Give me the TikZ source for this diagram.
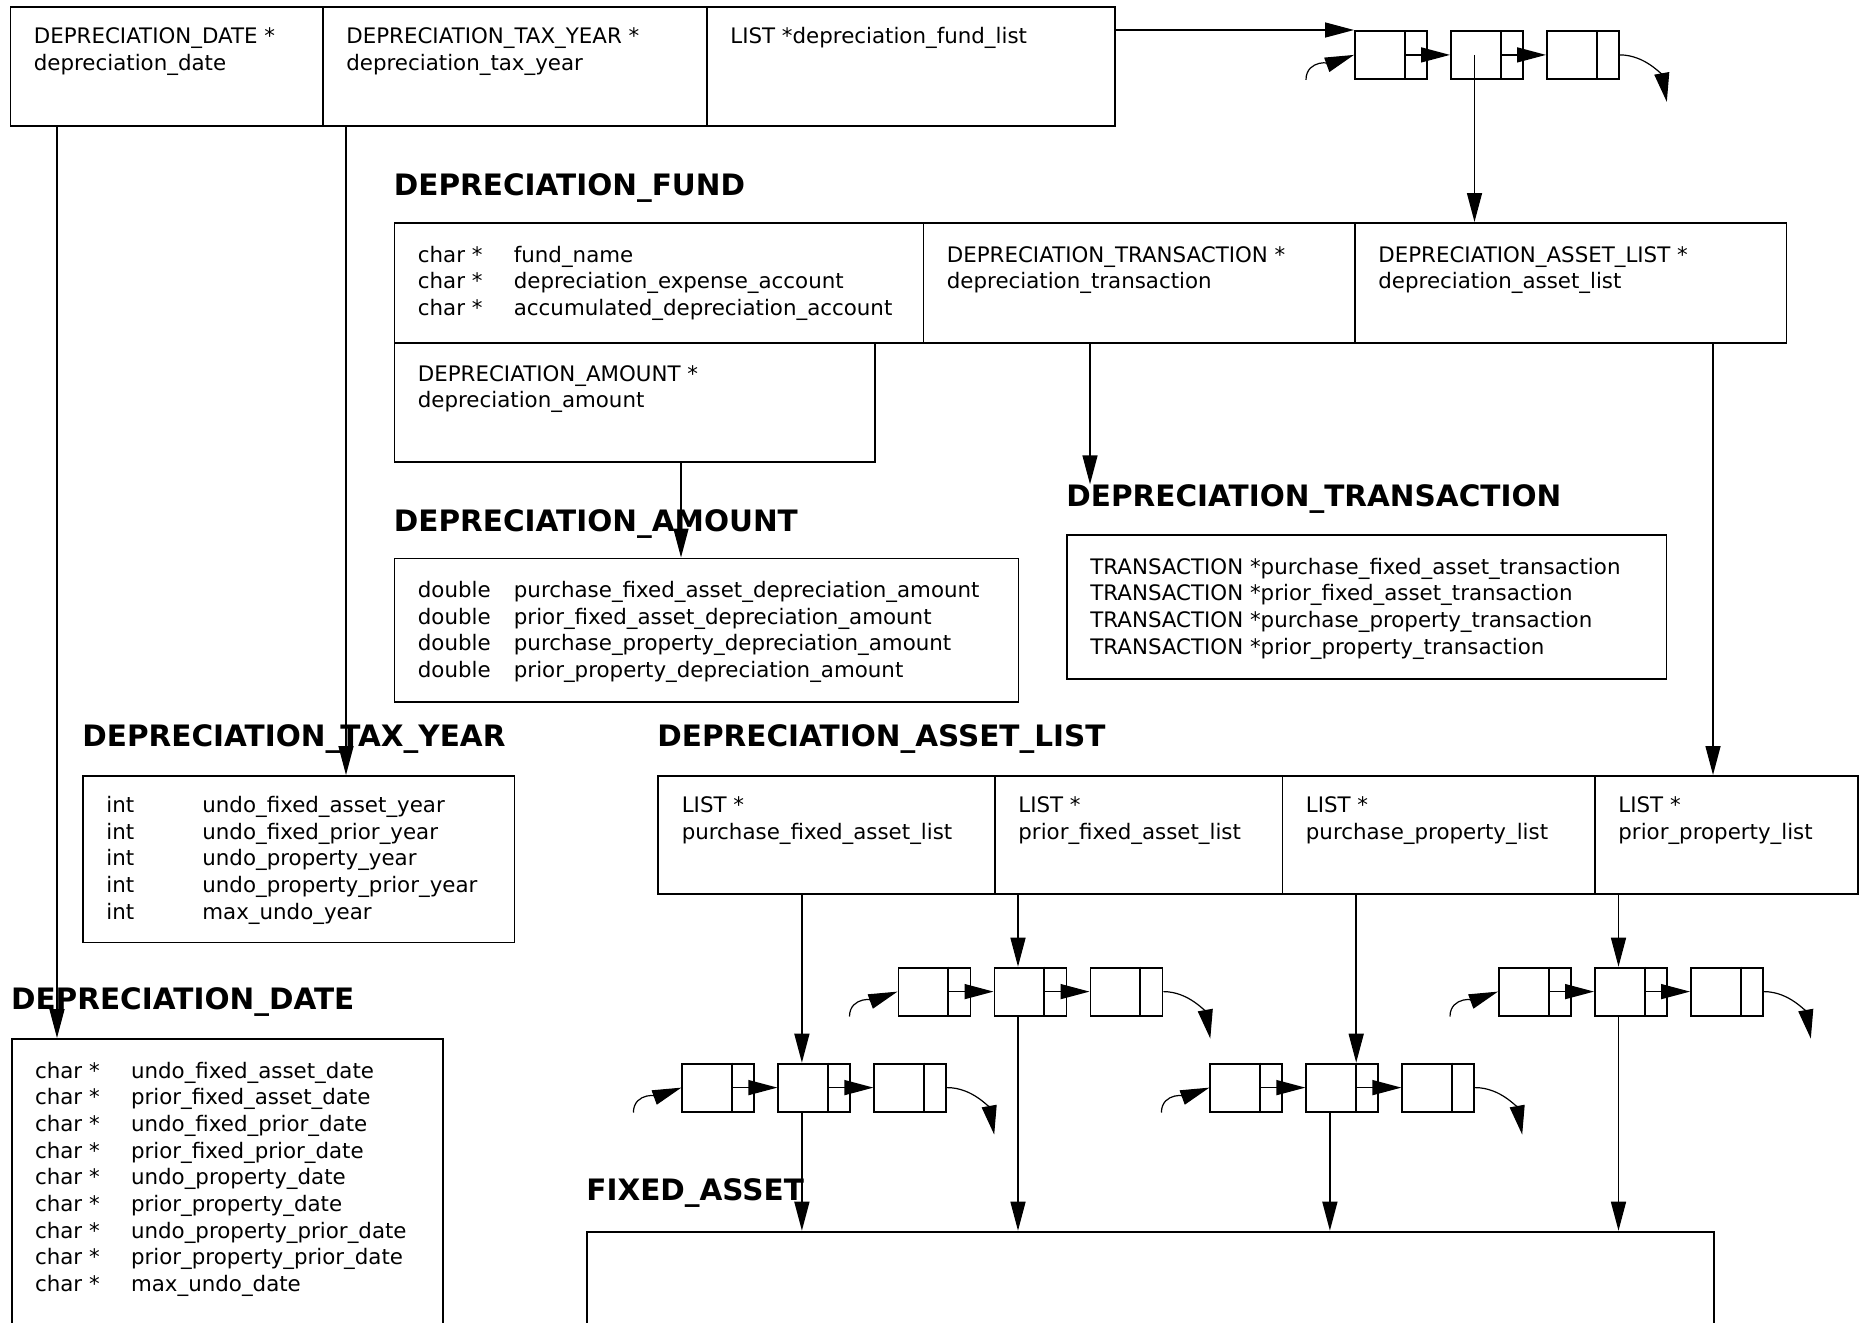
\documentclass[tikz,border=0pt]{standalone}
\usepackage{fontspec}
\setmainfont{DejaVu Sans}
\usetikzlibrary{arrows.meta,calc}
\newcommand{\regfont}{\fontsize{10.68}{13.35}\selectfont}
\newcommand{\ttlfont}{\fontsize{14.75}{17}\selectfont\bfseries}
\tikzset{
  cell/.style={draw, line width=0.9pt, inner sep=0pt, anchor=north west},
  txt/.style={anchor=base west, inner sep=0pt, font=\regfont},
  ttl/.style={anchor=base west, inner sep=0pt, font=\ttlfont},
  arr/.style={line width=0.75pt, -{Triangle[length=14.5pt,width=7.5pt]}},
  carr/.style={line width=0.6pt, -{Triangle[length=14.5pt,width=7.5pt]}},
  lnode/.style={draw, line width=0.9pt, minimum width=36pt, minimum height=24pt, inner sep=0pt, anchor=north west},
}
% cell box: name, x1, y1, x2, y2 (pixel units)
\newcommand{\cellbox}[5]{\node[cell, minimum width={(#4-#2)*0.5pt}, minimum height={(#5-#3)*0.5pt}] (#1) at (#2,#3) {};}
% text block inside a cell: name, baseline offset, text
\newcommand{\celltext}[3]{\node[txt] (#1-t) at ($(#1.north west)+(24,#2)$) {#3};}
% linked list: name, x, y
\newcommand{\llist}[3]{%
  \foreach \i in {1,2,3} {
    \node[lnode] (#1-\i) at ({#2+96*(\i-1)},#3) {};
    \coordinate (#1-\i-p) at ($(#1-\i.east)+(-23,0)$);
    \coordinate (#1-\i-d) at ($(#1-\i.west)+(24.5,0)$);
    \draw[line width=0.9pt] (#1-\i-p |- #1-\i.north) -- (#1-\i-p |- #1-\i.south);
  }
  \draw[arr] (#1-1-p) -- (#1-2.west);
  \draw[arr] (#1-2-p) -- (#1-3.west);
  \coordinate (#1-in) at ($(#1-1.south west)+(-48,0)$);
  \coordinate (#1-out) at ($(#1-3.east)+(47,47)$);
  \draw[carr] (#1-in) to[out=90,in=200] (#1-1.west);
  \draw[carr] (#1-3.east) to[out=0,in=100] (#1-out);
}
\begin{document}
\begin{tikzpicture}[x=0.5pt,y=-0.5pt]
\useasboundingbox (0,0) rectangle (1864,1323);
\clip (0,0) rectangle (1864,1323);

% ---------- top structure ----------
\cellbox{tb1}{9.5}{6}{322}{125}
\cellbox{tb2}{322}{6}{706}{125}
\cellbox{tb3}{706}{6}{1114}{125}
\celltext{tb1}{37.5}{\begin{tabular}[t]{@{}l@{}}DEPRECIATION\_DATE *\\ depreciation\_date\end{tabular}}
\celltext{tb2}{37.5}{\begin{tabular}[t]{@{}l@{}}DEPRECIATION\_TAX\_YEAR *\\ depreciation\_tax\_year\end{tabular}}
\celltext{tb3}{37.5}{LIST *depreciation\_fund\_list}

% ---------- DEPRECIATION_FUND ----------
\node[ttl] (tFund) at (393.5,195) {DEPRECIATION\_FUND};
\cellbox{f1}{393.5}{222}{922.5}{342}
\cellbox{f2}{922.5}{222}{1354}{342}
\cellbox{f3}{1354}{222}{1785.5}{342}
\cellbox{f4}{393.5}{342}{874}{461}
\celltext{f1}{40}{\begin{tabular}[t]{@{}p{48pt}@{}l@{}}char * & fund\_name\\ char * & depreciation\_expense\_account\\ char * & accumulated\_depreciation\_account\end{tabular}}
\celltext{f2}{40}{\begin{tabular}[t]{@{}l@{}}DEPRECIATION\_TRANSACTION *\\ depreciation\_transaction\end{tabular}}
\celltext{f3}{40}{\begin{tabular}[t]{@{}l@{}}DEPRECIATION\_ASSET\_LIST *\\ depreciation\_asset\_list\end{tabular}}
\celltext{f4}{39}{\begin{tabular}[t]{@{}l@{}}DEPRECIATION\_AMOUNT *\\ depreciation\_amount\end{tabular}}

% ---------- DEPRECIATION_AMOUNT ----------
\node[ttl] (tAmount) at (393.5,531.6) {DEPRECIATION\_AMOUNT};
\cellbox{amt}{393.5}{557.5}{1017.6}{701}
\celltext{amt}{40}{\begin{tabular}[t]{@{}p{48pt}@{}l@{}}double & purchase\_fixed\_asset\_depreciation\_amount\\ double & prior\_fixed\_asset\_depreciation\_amount\\ double & purchase\_property\_depreciation\_amount\\ double & prior\_property\_depreciation\_amount\end{tabular}}

% ---------- DEPRECIATION_TRANSACTION ----------
\node[ttl] (tTrans) at (1066,506.6) {DEPRECIATION\_TRANSACTION};
\cellbox{trn}{1066}{534}{1665.5}{678}
\celltext{trn}{40}{\begin{tabular}[t]{@{}l@{}}TRANSACTION *purchase\_fixed\_asset\_transaction\\ TRANSACTION *prior\_fixed\_asset\_transaction\\ TRANSACTION *purchase\_property\_transaction\\ TRANSACTION *prior\_property\_transaction\end{tabular}}

% ---------- DEPRECIATION_TAX_YEAR ----------
\node[ttl] (tTax) at (82,746.6) {DEPRECIATION\_TAX\_YEAR};
\cellbox{tax}{82}{775}{513.6}{941.5}
\celltext{tax}{37.5}{\begin{tabular}[t]{@{}p{48pt}@{}l@{}}int & undo\_fixed\_asset\_year\\ int & undo\_fixed\_prior\_year\\ int & undo\_property\_year\\ int & undo\_property\_prior\_year\\ int & max\_undo\_year\end{tabular}}

% ---------- DEPRECIATION_DATE ----------
\node[ttl] (tDate) at (10.7,1009) {DEPRECIATION\_DATE};
\cellbox{dat}{10.7}{1038}{442}{1345}
\celltext{dat}{40}{\begin{tabular}[t]{@{}p{48pt}@{}l@{}}char * & undo\_fixed\_asset\_date\\ char * & prior\_fixed\_asset\_date\\ char * & undo\_fixed\_prior\_date\\ char * & prior\_fixed\_prior\_date\\ char * & undo\_property\_date\\ char * & prior\_property\_date\\ char * & undo\_property\_prior\_date\\ char * & prior\_property\_prior\_date\\ char * & max\_undo\_date\end{tabular}}

% ---------- DEPRECIATION_ASSET_LIST ----------
\node[ttl] (tAssets) at (657,746.6) {DEPRECIATION\_ASSET\_LIST};
\cellbox{a1}{657.4}{775}{994}{893}
\cellbox{a2}{994}{775}{1281.5}{893}
\cellbox{a3}{1281.5}{775}{1594}{893}
\cellbox{a4}{1594}{775}{1857}{893}
\celltext{a1}{37.5}{\begin{tabular}[t]{@{}l@{}}LIST *\\ purchase\_fixed\_asset\_list\end{tabular}}
\celltext{a2}{37.5}{\begin{tabular}[t]{@{}l@{}}LIST *\\ prior\_fixed\_asset\_list\end{tabular}}
\celltext{a3}{37.5}{\begin{tabular}[t]{@{}l@{}}LIST *\\ purchase\_property\_list\end{tabular}}
\celltext{a4}{37.5}{\begin{tabular}[t]{@{}l@{}}LIST *\\ prior\_property\_list\end{tabular}}

% ---------- FIXED_ASSET ----------
\node[ttl] (tFixed) at (586,1200.6) {FIXED\_ASSET};
\cellbox{fix}{586}{1230.7}{1713}{1345}

% ---------- linked lists ----------
\llist{T}{1354}{30}
\llist{UL}{897.5}{966.7}
\llist{UR}{1498}{966.7}
\llist{LL}{681.4}{1062.7}
\llist{LM}{1209.4}{1062.7}

% ---------- connectors ----------
\coordinate (xA) at (57,0);
\coordinate (xB) at (346,0);
\coordinate (xC) at (681,0);
\coordinate (xD) at (1090,0);
\coordinate (xE) at (1713,0);
\draw[arr] (xA |- tb1.south) -- (xA |- dat.north);
\draw[arr] (xB |- tb2.south) -- (xB |- tax.north);
\draw[arr] (tb3.east |- T-1.north) -- (T-1.north west);
\draw[arr] (T-2-d) -- (T-2-d |- f3.north);
\draw[arr] (xC |- f4.south) -- (xC |- amt.north);
\draw[arr] (xD |- f2.south) -- (xD |- tTrans.north);
\draw[arr] (xE |- f3.south) -- (xE |- a4.north);

\draw[arr] (LL-2-d |- a1.south) -- (LL-2-d |- LL-2.north);
\draw[arr] (UL-2-d |- a2.south) -- (UL-2-d |- UL-2.north);
\draw[arr] (LM-2-p |- a3.south) -- (LM-2-p |- LM-2.north);
\draw[arr] (UR-2-d |- a4.south) -- (UR-2-d |- UR-2.north);

\draw[arr] (LL-2-d |- LL-2.south) -- (LL-2-d |- fix.north);
\draw[arr] (UL-2-d |- UL-2.south) -- (UL-2-d |- fix.north);
\draw[arr] (LM-2-d |- LM-2.south) -- (LM-2-d |- fix.north);
\draw[arr] (UR-2-d |- UR-2.south) -- (UR-2-d |- fix.north);
\end{tikzpicture}
\end{document}
